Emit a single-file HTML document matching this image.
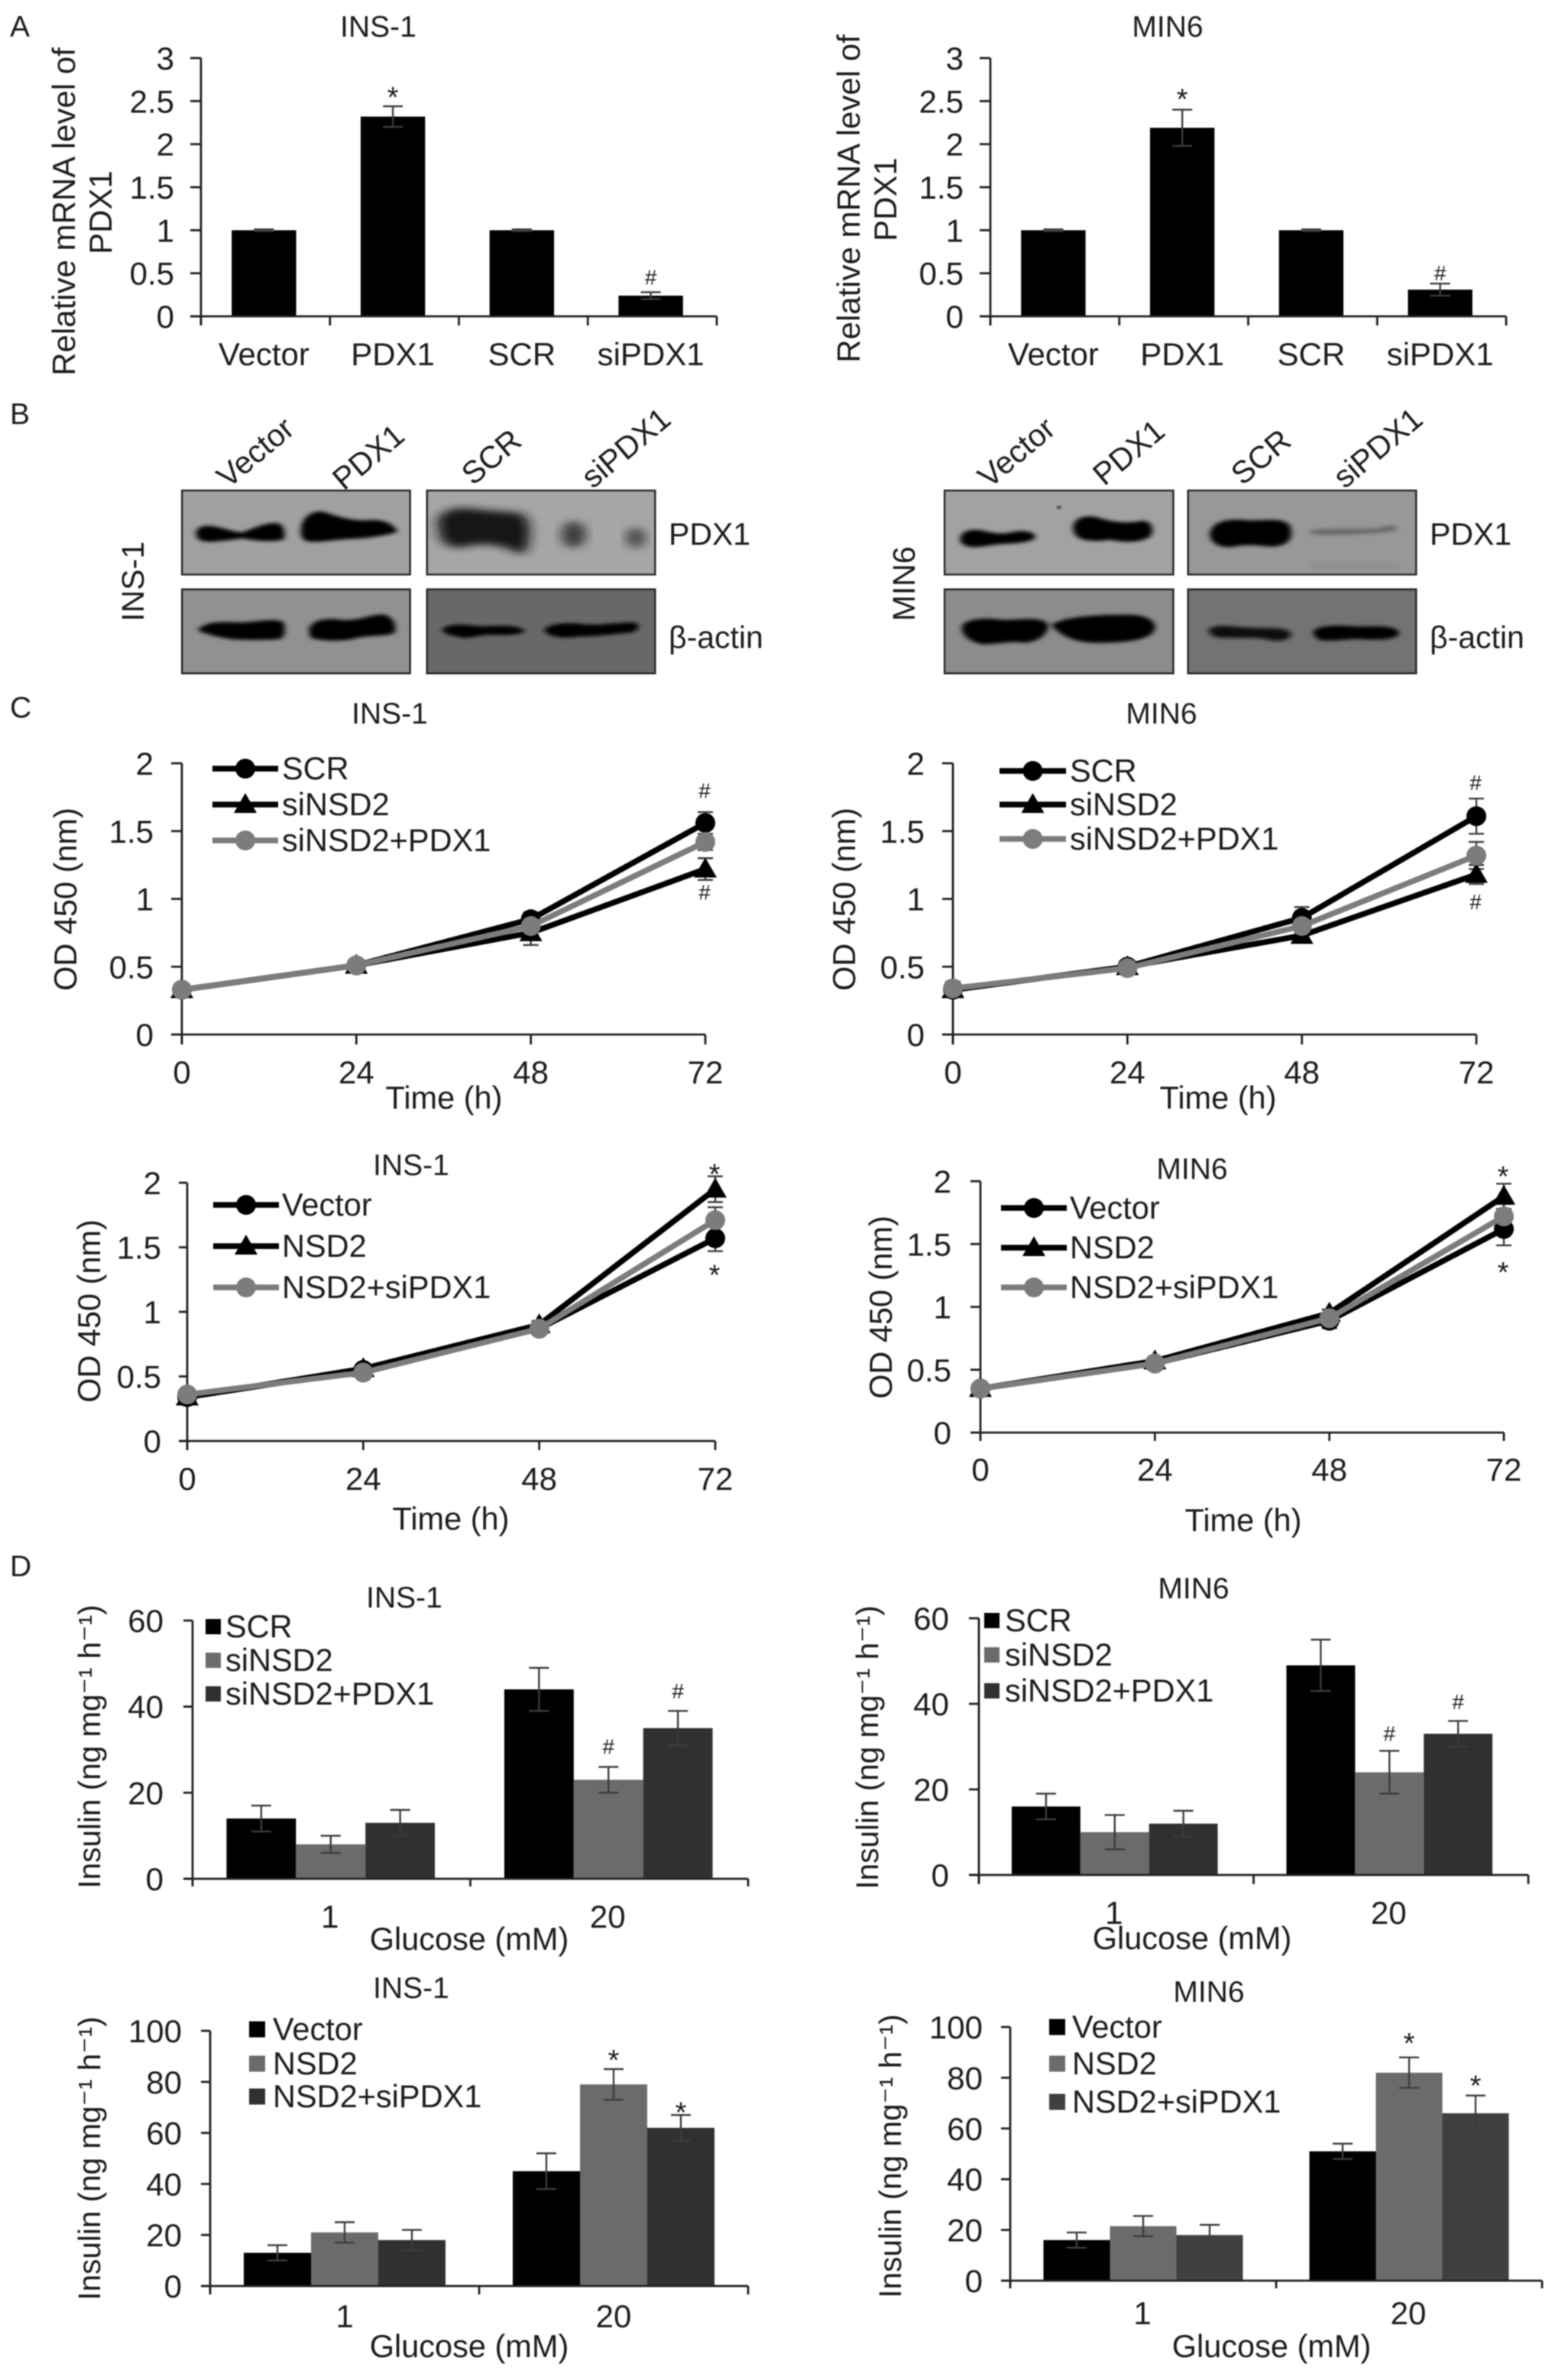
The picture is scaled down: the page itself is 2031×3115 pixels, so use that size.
<!DOCTYPE html>
<html lang="en">
<head>
<meta charset="utf-8">
<title>PDX1 and NSD2 figure panels</title>
<style>
html,body{margin:0;padding:0;background:#fff;}
svg{display:block;filter:blur(0.7px);}
text{font-family:"Liberation Sans","DejaVu Sans",sans-serif;fill:#1c1c1c;}
</style>
</head>
<body>
<svg id="fig" xmlns="http://www.w3.org/2000/svg" width="2031" height="3115" viewBox="0 0 2031 3115">
<defs>
<filter id="soft" x="-30%" y="-60%" width="160%" height="220%"><feGaussianBlur stdDeviation="9 7"/></filter>
<filter id="softer" x="-30%" y="-60%" width="160%" height="220%"><feGaussianBlur stdDeviation="20 14"/></filter>
<filter id="inner" x="-5%" y="-5%" width="110%" height="110%"><feGaussianBlur stdDeviation="2"/></filter>
</defs>
<rect width="2031" height="3115" fill="#fff"/>

<g font-size="39">
<text x="13" y="48">A</text>
<text x="13" y="555">B</text>
<text x="13" y="939">C</text>
<text x="13" y="2063">D</text>
</g>

<g font-size="39" text-anchor="middle">
<text x="495" y="48">INS-1</text>
<text x="1528" y="48">MIN6</text>
<text x="510" y="947">INS-1</text>
<text x="1520" y="947">MIN6</text>
<text x="538" y="1538">INS-1</text>
<text x="1560" y="1543">MIN6</text>
<text x="529" y="2104">INS-1</text>
<text x="1562" y="2092">MIN6</text>
<text x="538" y="2615">INS-1</text>
<text x="1582" y="2620">MIN6</text>
</g>

<g font-size="41.5" text-anchor="middle">
<text font-size="42" transform="translate(98,277) rotate(-90)">Relative mRNA level of</text>
<text font-size="42" transform="translate(146,278) rotate(-90)">PDX1</text>
<text font-size="42" transform="translate(1125,260) rotate(-90)">Relative mRNA level of</text>
<text font-size="42" transform="translate(1173,261) rotate(-90)">PDX1</text>
<text transform="translate(100,1177) rotate(-90)">OD 450 (nm)</text>
<text transform="translate(1119,1177) rotate(-90)">OD 450 (nm)</text>
<text transform="translate(131,1716) rotate(-90)">OD 450 (nm)</text>
<text transform="translate(1167,1711) rotate(-90)">OD 450 (nm)</text>
<text x="581" y="1451">Time (h)</text>
<text x="1594" y="1451">Time (h)</text>
<text x="590" y="2002">Time (h)</text>
<text x="1627" y="2004">Time (h)</text>
<text font-size="40.5" transform="translate(131,2286) rotate(-90)">Insulin (ng mg⁻¹ h⁻¹)</text>
<text font-size="40.5" transform="translate(1149,2287) rotate(-90)">Insulin (ng mg⁻¹ h⁻¹)</text>
<text font-size="40.5" transform="translate(131,2825) rotate(-90)">Insulin (ng mg⁻¹ h⁻¹)</text>
<text font-size="40.5" transform="translate(1179,2822) rotate(-90)">Insulin (ng mg⁻¹ h⁻¹)</text>
<text x="614" y="2552">Glucose (mM)</text>
<text x="1560" y="2551">Glucose (mM)</text>
<text x="614" y="3085">Glucose (mM)</text>
<text x="1664" y="3085">Glucose (mM)</text>
</g>

<g font-size="41">
<text text-anchor="middle" transform="translate(334,592) rotate(-40) translate(0,14)">Vector</text>
<text text-anchor="middle" transform="translate(482,598) rotate(-40) translate(0,14)">PDX1</text>
<text text-anchor="middle" transform="translate(643,598) rotate(-40) translate(0,14)">SCR</text>
<text text-anchor="middle" transform="translate(819,586) rotate(-40) translate(0,14)">siPDX1</text>
<text text-anchor="middle" transform="translate(1330,592) rotate(-40) translate(0,14)">Vector</text>
<text text-anchor="middle" transform="translate(1477,592) rotate(-40) translate(0,14)">PDX1</text>
<text text-anchor="middle" transform="translate(1650,598) rotate(-40) translate(0,14)">SCR</text>
<text text-anchor="middle" transform="translate(1803,586) rotate(-40) translate(0,14)">siPDX1</text>
<text x="875" y="713">PDX1</text>
<text x="875" y="848">β-actin</text>
<text x="1871" y="713">PDX1</text>
<text x="1871" y="848">β-actin</text>
<text text-anchor="middle" transform="translate(188,761) rotate(-90)">INS-1</text>
<text text-anchor="middle" transform="translate(1197,764) rotate(-90)">MIN6</text>
</g>

<g transform="translate(230,628) scale(0.41,0.3333)">
<rect x="20" y="42" width="728" height="330" fill="#a0a0a0" stroke="#2a2a2a" stroke-width="2.5" vector-effect="non-scaling-stroke"/>
<rect x="802" y="42" width="728" height="330" fill="#a6a6a6" stroke="#2a2a2a" stroke-width="2.5" vector-effect="non-scaling-stroke"/>
<rect x="20" y="430" width="728" height="330" fill="#919191" stroke="#2a2a2a" stroke-width="2.5" vector-effect="non-scaling-stroke"/>
<rect x="802" y="430" width="728" height="330" fill="#686868" stroke="#2a2a2a" stroke-width="2.5" vector-effect="non-scaling-stroke"/>
<path filter="url(#soft)" fill="#000" d="M65 210 C65 180,100 175,130 185 C170 195,200 210,215 205 C250 190,290 165,325 170 C350 180,350 215,345 235 C300 245,250 240,215 230 C170 235,110 250,85 240 C70 235,65 225,65 210Z"/>
<path filter="url(#soft)" fill="#000" d="M400 190 C405 140,440 120,470 125 C510 140,560 165,620 158 C660 155,695 170,708 205 C680 215,620 230,560 232 C500 235,450 250,415 240 C400 230,398 210,400 190Z"/>
<path filter="url(#softer)" fill="#141414" d="M835 170 C835 130,880 110,920 110 C980 120,1050 125,1100 130 C1130 145,1135 200,1125 250 C1120 290,1100 300,1080 280 C1040 255,990 250,950 255 C900 275,860 265,845 230 Z"/>
<ellipse filter="url(#softer)" fill="#3a3a3a" cx="1270" cy="215" rx="38" ry="52"/>
<ellipse filter="url(#softer)" fill="#4a4a4a" cx="1468" cy="228" rx="30" ry="40"/>
<path filter="url(#soft)" fill="#000" d="M70 590 C90 560,130 555,200 560 C260 560,320 540,345 560 C350 590,350 610,335 625 C280 630,220 630,170 625 C130 615,90 605,70 590Z"/>
<path filter="url(#soft)" fill="#000" d="M425 590 C430 550,480 540,530 550 C580 555,620 530,660 528 C695 535,705 570,700 600 C680 615,620 610,580 620 C530 640,450 630,430 620Z"/>
<path filter="url(#soft)" fill="#000" d="M850 590 C860 565,910 565,970 575 C1020 575,1080 565,1115 590 C1110 610,1050 612,1000 608 C960 612,930 625,915 620 C880 612,855 605,850 590Z"/>
<path filter="url(#soft)" fill="#000" d="M1175 590 C1190 565,1240 560,1290 565 C1350 575,1400 560,1465 560 C1485 570,1480 595,1450 600 C1400 605,1350 615,1290 615 C1240 625,1190 620,1175 590Z"/>
</g>

<g transform="translate(1230,628) scale(0.41,0.3333)">
<rect x="15" y="42" width="730" height="330" fill="#a2a2a2" stroke="#2a2a2a" stroke-width="2.5" vector-effect="non-scaling-stroke"/>
<rect x="792" y="42" width="728" height="330" fill="#989898" stroke="#2a2a2a" stroke-width="2.5" vector-effect="non-scaling-stroke"/>
<rect x="15" y="430" width="730" height="330" fill="#8c8c8c" stroke="#2a2a2a" stroke-width="2.5" vector-effect="non-scaling-stroke"/>
<rect x="792" y="430" width="728" height="330" fill="#737373" stroke="#2a2a2a" stroke-width="2.5" vector-effect="non-scaling-stroke"/>
<circle cx="380" cy="108" r="8" fill="#5a5a5a" filter="url(#inner)"/>
<path filter="url(#soft)" fill="#000" d="M65 235 C65 200,100 190,140 200 C170 210,200 215,230 205 C270 195,305 205,305 225 C300 245,240 250,200 252 C160 255,120 270,90 262 C70 255,65 245,65 235Z"/>
<path filter="url(#soft)" fill="#000" d="M425 185 C430 145,470 135,510 150 C560 170,610 170,650 160 C680 165,685 200,670 225 C630 250,580 245,540 235 C500 245,450 240,435 220 C428 210,425 200,425 185Z"/>
<path filter="url(#soft)" fill="#000" d="M862 210 C870 160,920 150,990 160 C1050 160,1110 145,1120 190 C1130 240,1100 265,1050 262 C1000 255,960 255,930 265 C880 265,860 240,862 210Z"/>
<path filter="url(#soft)" fill="#6a6a6a" d="M1180 200 C1230 185,1330 195,1400 190 C1430 175,1460 175,1460 195 C1440 210,1380 210,1320 215 C1260 218,1200 220,1180 210Z"/>
<rect filter="url(#soft)" fill="#8f8f8f" x="1180" y="325" width="290" height="25"/>
<path filter="url(#soft)" fill="#000" d="M70 580 C75 545,140 540,200 550 C260 550,320 535,345 565 C350 600,320 635,270 640 C220 630,170 650,130 645 C90 630,70 610,70 580Z"/>
<path filter="url(#soft)" fill="#000" d="M355 570 C400 535,500 530,600 530 C660 530,695 555,685 590 C670 630,590 640,500 640 C440 640,390 620,355 570Z"/>
<path filter="url(#soft)" fill="#0a0a0a" d="M858 590 C870 565,920 575,980 580 C1040 585,1100 575,1120 600 C1125 630,1080 640,1040 625 C980 615,930 625,880 618 C865 610,858 600,858 590Z"/>
<path filter="url(#soft)" fill="#050505" d="M1190 600 C1200 570,1260 570,1320 575 C1380 580,1440 565,1465 595 C1470 625,1420 632,1340 625 C1280 625,1230 640,1205 625Z"/>
</g>

<g id="charts"></g>
</svg>

<script>
// ---- Panel A data ----
const mrnaCategories = ['Vector', 'PDX1', 'SCR', 'siPDX1'];
const mrnaTicks = ['0', '0.5', '1', '1.5', '2', '2.5', '3'];
const a1Values = [1, 2.32, 1, 0.24];
const a1Errors = [0.01, 0.12, 0.01, 0.04];
const a2Values = [1, 2.19, 1, 0.31];
const a2Errors = [0.01, 0.21, 0.01, 0.07];

// ---- Panel C data ----
const hours = [0, 24, 48, 72];
const odTicks = ['0', '0.5', '1', '1.5', '2'];
const knockdownLegend = ['SCR', 'siNSD2', 'siNSD2+PDX1'];
const overexpressLegend = ['Vector', 'NSD2', 'NSD2+siPDX1'];
const c1Scr = [0.33, 0.51, 0.85, 1.56];
const c1Si = [0.33, 0.51, 0.75, 1.22];
const c1Rescue = [0.33, 0.51, 0.8, 1.42];
const c1ScrErr = [0.03, 0.03, 0.05, 0.08];
const c1SiErr = [0.03, 0.03, 0.09, 0.08];
const c1RescueErr = [0.03, 0.03, 0.04, 0.06];
const c2Scr = [0.33, 0.5, 0.86, 1.61];
const c2Si = [0.33, 0.5, 0.73, 1.18];
const c2Rescue = [0.34, 0.49, 0.8, 1.32];
const c2ScrErr = [0.03, 0.03, 0.08, 0.13];
const c2SiErr = [0.03, 0.03, 0.03, 0.07];
const c2RescueErr = [0.05, 0.04, 0.05, 0.1];
const c3Vector = [0.34, 0.55, 0.87, 1.57];
const c3Nsd2 = [0.34, 0.56, 0.9, 1.95];
const c3Rescue = [0.36, 0.53, 0.87, 1.71];
const c3VectorErr = [0.03, 0.03, 0.04, 0.1];
const c3Nsd2Err = [0.03, 0.03, 0.03, 0.1];
const c3RescueErr = [0.02, 0.03, 0.03, 0.1];
const c4Vector = [0.35, 0.55, 0.89, 1.62];
const c4Nsd2 = [0.35, 0.57, 0.95, 1.88];
const c4Rescue = [0.35, 0.55, 0.91, 1.72];
const c4VectorErr = [0.04, 0.03, 0.06, 0.13];
const c4Nsd2Err = [0.03, 0.03, 0.03, 0.1];
const c4RescueErr = [0.03, 0.03, 0.03, 0.1];

// ---- Panel D data ----
const glucose = ['1', '20'];
const insulinTicksSmall = ['0', '20', '40', '60'];
const insulinTicksLarge = ['0', '20', '40', '60', '80', '100'];
const d1Scr = [14, 44];
const d1Si = [8, 23];
const d1Rescue = [13, 35];
const d1ScrErr = [3, 5];
const d1SiErr = [2, 3];
const d1RescueErr = [3, 4];
const d2Scr = [16, 49];
const d2Si = [10, 24];
const d2Rescue = [12, 33];
const d2ScrErr = [3, 6];
const d2SiErr = [4, 5];
const d2RescueErr = [3, 3];
const d3Vector = [13, 45];
const d3Nsd2 = [21, 79];
const d3Rescue = [18, 62];
const d3VectorErr = [3, 7];
const d3Nsd2Err = [4, 6];
const d3RescueErr = [4, 5];
const d4Vector = [16, 51];
const d4Nsd2 = [21.5, 82];
const d4Rescue = [18, 66];
const d4VectorErr = [3, 3];
const d4Nsd2Err = [4, 6];
const d4RescueErr = [4, 7];

const SVG_NS = 'http://www.w3.org/2000/svg';
const root = document.getElementById('charts');
const AXIS = '#222';
const ERR = '#3c3c3c';
const TICK_FONT = 42;
const LEGEND_FONT = 41.5;

function mk(tag, attrs, parent) {
  const node = document.createElementNS(SVG_NS, tag);
  for (const k in attrs) node.setAttribute(k, attrs[k]);
  parent.appendChild(node);
  return node;
}
function line(x1, y1, x2, y2, color, w, parent) {
  return mk('line', {x1: x1, y1: y1, x2: x2, y2: y2, stroke: color, 'stroke-width': w}, parent);
}
function label(str, x, y, anchor, size, parent) {
  const t = mk('text', {x: x, y: y, 'text-anchor': anchor, 'font-size': size}, parent);
  t.textContent = str;
  return t;
}

function drawFrame(name, f, ticks, xTickPositions, xLabels, xLabelPositions, parent) {
  const g = mk('g', {}, parent);
  
  
  const maxV = parseFloat(ticks[ticks.length - 1]);
  const yOf = v => f.bottom - (v / maxV) * (f.bottom - f.top);
  const yAxis = line(f.left, f.top, f.left, f.tickEnd, AXIS, 2.8, g);
  
  
  const xAxis = line(f.tickLeft, f.bottom, f.right, f.bottom, AXIS, 2.8, g);
  
  
  ticks.forEach(function (tk) {
    const y = yOf(parseFloat(tk));
    const tm = line(f.tickLeft, y, f.left, y, AXIS, 2.8, g);
    
    
    const tl = label(tk, f.labelRight, y + 15, 'end', TICK_FONT, g);
    
    
  });
  xTickPositions.forEach(function (x) {
    const tm = line(x, f.bottom, x, f.tickEnd, AXIS, 2.8, g);
    
    
  });
  xLabels.forEach(function (s, i) {
    const tl = label(s, xLabelPositions[i] + f.xLabelShift, f.xLabelBase, 'middle', TICK_FONT, g);
    
    
  });
  return yOf;
}

function errorBar(x, yHi, yLo, half, parent) {
  const g = mk('g', {}, parent);
  
  
  line(x, yHi, x, yLo, ERR, 2.4, g);
  line(x - half, yHi, x + half, yHi, ERR, 2.4, g);
  line(x - half, yLo, x + half, yLo, ERR, 2.4, g);
}

function mark(sym, x, y, parent) {
  const size = sym === '*' ? 38 : 28;
  const off = sym === '*' ? size * 0.58 : size * 0.35;
  const t = label(sym, x, y + off, 'middle', size, parent);
  t.setAttribute('fill', '#2a2a2a');
  
  
}

function barChart(name, f, categories, ticks, series, errors, colors) {
  const g = mk('g', {}, root);
  
  
  const catW = (f.right - f.left) / categories.length;
  const barW = catW / (series.length + 1);
  const xTicks = [];
  for (let i = 0; i <= categories.length; i++) xTicks.push(f.left + i * catW);
  const centers = categories.map((c, i) => f.left + (i + 0.5) * catW);
  const barsG = mk('g', {}, g);
  
  
  const maxV = parseFloat(ticks[ticks.length - 1]);
  const yOf = v => f.bottom - (v / maxV) * (f.bottom - f.top);
  const pos = [];
  series.forEach(function (vals, s) {
    pos.push([]);
    vals.forEach(function (v, c) {
      const x = centers[c] - (series.length * barW) / 2 + s * barW + f.barShift;
      const bar = mk('rect', {x: x, y: yOf(v), width: barW, height: f.bottom - yOf(v), fill: colors[s]}, barsG);
      
      
      pos[s].push({x: x + barW / 2, v: v, e: errors[s][c]});
    });
  });
  series.forEach(function (vals, s) {
    vals.forEach(function (v, c) {
      const p = pos[s][c];
      errorBar(p.x, yOf(p.v + p.e), yOf(p.v - p.e), f.capHalf, g);
    });
  });
  drawFrame(name, f, ticks, xTicks, categories, centers, g);
  return {
    g: g,
    star: function (sym, s, c, dy) {
      const p = pos[s][c];
      mark(sym, p.x, yOf(p.v + p.e) + dy, g);
    }
  };
}

function lineChart(name, f, ticks, series, errors) {
  const g = mk('g', {}, root);
  
  
  const maxH = hours[hours.length - 1];
  const xOf = h => f.left + (h / maxH) * (f.right - f.left);
  const xp = hours.map(xOf);
  const yOf = drawFrame(name, f, ticks, xp, hours.map(String), xp, g);
  const styles = [
    {c: '#000', shape: 'circle'},
    {c: '#000', shape: 'triangle'},
    {c: '#7c7c7c', shape: 'circle'}
  ];
  series.forEach(function (vals, s) {
    vals.forEach(function (v, i) {
      errorBar(xOf(hours[i]), yOf(v + errors[s][i]), yOf(v - errors[s][i]), 10, g);
    });
  });
  series.forEach(function (vals, s) {
    const st = styles[s];
    const sg = mk('g', {}, g);
    
    
    const pts = vals.map((v, i) => xOf(hours[i]) + ',' + yOf(v)).join(' ');
    const pl = mk('polyline', {points: pts, fill: 'none', stroke: st.c, 'stroke-width': 7.5, 'stroke-linejoin': 'round'}, sg);
    
    
    vals.forEach(function (v, i) {
      const m = marker(st, xOf(hours[i]), yOf(v), sg);
      
      
    });
  });
  return {
    g: g,
    star: function (sym, s, i, dir, dy) {
      const v = series[s][i] + dir * errors[s][i];
      mark(sym, xOf(hours[i]) - 1, yOf(v) + dy, g);
    }
  };
}

function marker(st, x, y, parent) {
  if (st.shape === 'circle') {
    return mk('circle', {cx: x, cy: y, r: 13, fill: st.c}, parent);
  }
  const pts = [x + ',' + (y - 15), (x + 15) + ',' + (y + 11), (x - 15) + ',' + (y + 11)].join(' ');
  return mk('polygon', {points: pts, fill: st.c}, parent);
}

function lineLegend(chart, entries, x1, x2, textX, ys) {
  const styles = [
    {c: '#000', shape: 'circle'},
    {c: '#000', shape: 'triangle'},
    {c: '#7c7c7c', shape: 'circle'}
  ];
  entries.forEach(function (s, i) {
    const lg = mk('g', {}, chart.g);
    
    
    line(x1, ys[i], x2, ys[i], styles[i].c, 7.5, lg);
    marker(styles[i], (x1 + x2) / 2, ys[i], lg);
    label(s, textX, ys[i] + 14, 'start', LEGEND_FONT, lg);
  });
}

function barLegend(chart, entries, colors, x, size, textX, ys) {
  entries.forEach(function (s, i) {
    const lg = mk('g', {}, chart.g);
    
    
    mk('rect', {x: x, y: ys[i] - size / 2, width: size, height: size, fill: colors[i]}, lg);
    label(s, textX, ys[i] + 14, 'start', LEGEND_FONT, lg);
  });
}

// Panel A
const a1 = barChart('mrna-chart-ins1',
  {left: 263, right: 938, top: 76, bottom: 414, tickLeft: 249, tickEnd: 426, labelRight: 228, xLabelBase: 478, xLabelShift: -2, barShift: -2, capHalf: 13},
  mrnaCategories, mrnaTicks, [a1Values], [a1Errors], ['#000']);
a1.star('*', 0, 1, -21);
a1.star('#', 0, 3, -20);
const a2 = barChart('mrna-chart-min6',
  {left: 1296, right: 1971, top: 76, bottom: 414, tickLeft: 1282, tickEnd: 426, labelRight: 1261, xLabelBase: 478, xLabelShift: -2, barShift: -2, capHalf: 13},
  mrnaCategories, mrnaTicks, [a2Values], [a2Errors], ['#000']);
a2.star('*', 0, 1, -23);
a2.star('#', 0, 3, -14);

// Panel C
const c1 = lineChart('od-chart-ins1-knockdown',
  {left: 238, right: 923, top: 999, bottom: 1354, tickLeft: 224, tickEnd: 1367, labelRight: 201, xLabelBase: 1418, xLabelShift: 0},
  odTicks, [c1Scr, c1Si, c1Rescue], [c1ScrErr, c1SiErr, c1RescueErr]);
lineLegend(c1, knockdownLegend, 278, 364, 369, [1006, 1053, 1100]);
c1.star('#', 0, 3, 1, -28);
c1.star('#', 1, 3, -1, 16);
const c2 = lineChart('od-chart-min6-knockdown',
  {left: 1247, right: 1932, top: 999, bottom: 1354, tickLeft: 1233, tickEnd: 1367, labelRight: 1210, xLabelBase: 1418, xLabelShift: 0},
  odTicks, [c2Scr, c2Si, c2Rescue], [c2ScrErr, c2SiErr, c2RescueErr]);
lineLegend(c2, knockdownLegend, 1308, 1395, 1400, [1009, 1053, 1098]);
c2.star('#', 0, 3, 1, -21);
c2.star('#', 1, 3, -1, 23);
const c3 = lineChart('od-chart-ins1-overexpression',
  {left: 245, right: 936, top: 1548, bottom: 1886, tickLeft: 234, tickEnd: 1898, labelRight: 211, xLabelBase: 1950, xLabelShift: 0},
  odTicks, [c3Vector, c3Nsd2, c3Rescue], [c3VectorErr, c3Nsd2Err, c3RescueErr]);
lineLegend(c3, overexpressLegend, 279, 365, 369, [1577, 1631, 1685]);
c3.star('*', 1, 3, 1, -12);
c3.star('*', 0, 3, -1, 22);
const c4 = lineChart('od-chart-min6-overexpression',
  {left: 1283, right: 1968, top: 1546, bottom: 1875, tickLeft: 1270, tickEnd: 1886, labelRight: 1245, xLabelBase: 1938, xLabelShift: 0},
  odTicks, [c4Vector, c4Nsd2, c4Rescue], [c4VectorErr, c4Nsd2Err, c4RescueErr]);
lineLegend(c4, overexpressLegend, 1310, 1396, 1400, [1581, 1633, 1685]);
c4.star('*', 1, 3, 1, -19);
c4.star('*', 0, 3, -1, 26);

// Panel D
const colorsDark = ['#000', '#6b6b6b', '#303030'];
const colorsMid = ['#000', '#6b6b6b', '#404040'];
const d1 = barChart('insulin-chart-ins1-knockdown',
  {left: 252, right: 979, top: 2121, bottom: 2459, tickLeft: 240, tickEnd: 2469, labelRight: 214, xLabelBase: 2523, xLabelShift: -2, barShift: -1, capHalf: 13},
  glucose, insulinTicksSmall, [d1Scr, d1Si, d1Rescue], [d1ScrErr, d1SiErr, d1RescueErr], colorsDark);
barLegend(d1, knockdownLegend, colorsDark, 269, 20, 295, [2129, 2173, 2217]);
d1.star('#', 1, 1, -27);
d1.star('#', 2, 1, -26);
const d2 = barChart('insulin-chart-min6-knockdown',
  {left: 1281, right: 2000, top: 2118, bottom: 2454, tickLeft: 1268, tickEnd: 2466, labelRight: 1242, xLabelBase: 2518, xLabelShift: -3, barShift: -2, capHalf: 13},
  glucose, insulinTicksSmall, [d2Scr, d2Si, d2Rescue], [d2ScrErr, d2SiErr, d2RescueErr], colorsDark);
barLegend(d2, knockdownLegend, colorsDark, 1288, 20, 1315, [2121, 2166, 2213]);
d2.star('#', 1, 1, -23);
d2.star('#', 2, 1, -25);
const d3 = barChart('insulin-chart-ins1-overexpression',
  {left: 275, right: 979, top: 2658, bottom: 2992, tickLeft: 263, tickEnd: 3003, labelRight: 238, xLabelBase: 3046, xLabelShift: 0, barShift: 0, capHalf: 13},
  glucose, insulinTicksLarge, [d3Vector, d3Nsd2, d3Rescue], [d3VectorErr, d3Nsd2Err, d3RescueErr], colorsDark);
barLegend(d3, overexpressLegend, colorsDark, 326, 21, 357, [2656, 2701, 2744]);
d3.star('*', 1, 1, -21);
d3.star('*', 2, 1, -13);
const d4 = barChart('insulin-chart-min6-overexpression',
  {left: 1322, right: 2018, top: 2653, bottom: 2985, tickLeft: 1310, tickEnd: 2995, labelRight: 1286, xLabelBase: 3042, xLabelShift: -1, barShift: 0, capHalf: 13},
  glucose, insulinTicksLarge, [d4Vector, d4Nsd2, d4Rescue], [d4VectorErr, d4Nsd2Err, d4RescueErr], colorsMid);
barLegend(d4, overexpressLegend, colorsMid, 1373, 21, 1403, [2653, 2701, 2751]);
d4.star('*', 1, 1, -28);
d4.star('*', 2, 1, -22);
</script>
</body>
</html>
